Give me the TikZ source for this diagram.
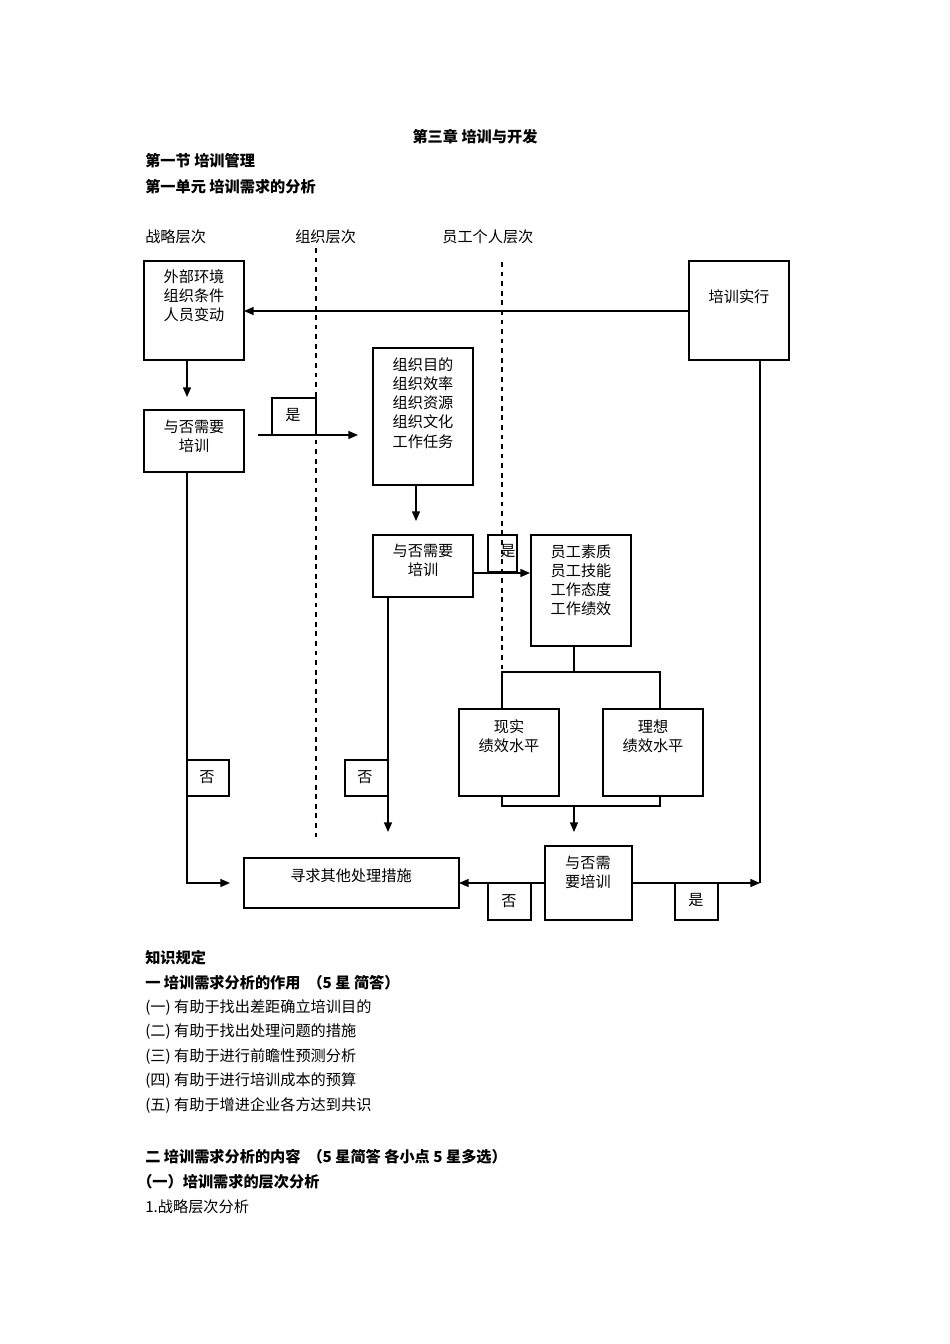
\documentclass[tikz,border=0pt]{standalone}
\usepackage{fontspec}
\setmainfont{Noto Sans CJK SC}
\usetikzlibrary{arrows.meta}
\begin{document}
\begin{tikzpicture}[x=0.626pt,y=-0.626pt,
  font=\fontsize{9.5}{12}\selectfont,
  bx/.style={draw,thick,minimum width=0pt,inner sep=0pt},
  lbl/.style={anchor=west,inner sep=0pt},
  bl/.style={anchor=west,inner sep=0pt,font=\fontsize{9.5}{12}\selectfont\bfseries},
  ar/.style={-{Triangle[length=6pt,width=5pt]},thick},
  ln/.style={thick}]
\useasboundingbox (0,0) rectangle (950,1344);
\fill[white] (0,0) rectangle (950,1344);
\node[inner sep=0pt,font=\fontsize{9.5}{12}\selectfont\bfseries] (t) at (475,137) {第三章 培训与开发};
\node[bl] (t1) at (145,161) {第一节 培训管理};
\node[bl] (t2) at (145,187) {第一单元 培训需求的分析};
\node[lbl] (h1) at (145,237) {战略层次};
\node[lbl] (h2) at (295,237) {组织层次};
\node[lbl] (h3) at (442,237) {员工个人层次};
\draw[dashed,thick] (316,248) -- (316,840);
\draw[dashed,thick] (502,262) -- (502,700);
% boxes
\draw[thick] (144,261) rectangle (244,360); \node[align=center] (A) at (194,296) {外部环境\\组织条件\\人员变动};
\draw[thick] (689,261) rectangle (789,360); \node (B) at (739,297) {培训实行};
\draw[thick] (144,410) rectangle (244,472); \node[align=center] (C) at (194,436) {与否需要\\培训};
\draw[thick] (373,348) rectangle (473,485); \node[align=center] (D) at (423,403) {组织目的\\组织效率\\组织资源\\组织文化\\工作任务};
\draw[thick] (373,535) rectangle (473,597); \node[align=center] (E) at (423,560) {与否需要\\培训};
\draw[thick] (531,535) rectangle (631,646); \node[align=center] (F) at (581,580) {员工素质\\员工技能\\工作态度\\工作绩效};
\draw[thick] (459,709) rectangle (559,796); \node[align=center] (G) at (509,736) {现实\\绩效水平};
\draw[thick] (603,709) rectangle (703,796); \node[align=center] (H) at (653,736) {理想\\绩效水平};
\draw[thick] (545,846) rectangle (632,920); \node[align=center] (I) at (588,872) {与否需\\要培训};
\draw[thick] (244,858) rectangle (459,908); \node (J) at (351,876) {寻求其他处理措施};
% small label boxes
\draw[thick] (272,398) rectangle (316,435); \node (y1) at (293,415) {是};
\draw[thick] (488,535) rectangle (517,572); \node (y2) at (508,551) {是};
\draw[thick] (187,760) rectangle (229,796); \node (n1) at (207,777) {否};
\draw[thick] (345,760) rectangle (388,796); \node (n2) at (365,777) {否};
\draw[thick] (488,883) rectangle (531,920); \node (n3) at (509,901) {否};
\draw[thick] (675,883) rectangle (718,920); \node (y3) at (696,900) {是};
% connectors
\coordinate (a1) at (689,311); \coordinate (a2) at (244,311);
\draw[ar] (a1) -- (a2);
\coordinate (b1) at (187,360); \coordinate (b2) at (187,397);
\draw[ar] (b1) -- (b2);
\coordinate (c1) at (258,435); \coordinate (c2) at (358,435);
\draw[ar] (c1) -- (c2);
\coordinate (d1) at (416,485); \coordinate (d2) at (416,521);
\draw[ar] (d1) -- (d2);
\coordinate (e1) at (473,573); \coordinate (e2) at (530,573);
\draw[ar] (e1) -- (e2);
\coordinate (f1) at (574,646); \coordinate (f2) at (574,672);
\coordinate (f3) at (502,672); \coordinate (f4) at (660,672);
\coordinate (f5) at (502,709); \coordinate (f6) at (660,709);
\draw[ln] (f1) -- (f2); \draw[ln] (f5) -- (f3) -- (f4) -- (f6);
\coordinate (g1) at (502,796); \coordinate (g2) at (502,806);
\coordinate (g3) at (660,806); \coordinate (g4) at (660,796);
\draw[ln] (g1) -- (g2) -- (g3) -- (g4);
\coordinate (g5) at (574,806); \coordinate (g6) at (574,832);
\draw[ar] (g5) -- (g6);
\coordinate (i1) at (545,883); \coordinate (i2) at (459,883);
\draw[ar] (i1) -- (i2);
\coordinate (i3) at (632,883); \coordinate (i4) at (760,883);
\coordinate (i5) at (760,360);
\draw[ar] (i3) -- (i4);
\draw[ln] (i5) -- (i4);
\coordinate (c3) at (187,472); \coordinate (c4) at (187,883); \coordinate (c5) at (230,883);
\draw[ar] (c3) -- (c4) -- (c5);
\coordinate (e3) at (388,597); \coordinate (e4) at (388,832);
\draw[ar] (e3) -- (e4);
% text below
\node[bl] (k0) at (145,958) {知识规定};
\node[bl] (k1) at (145,983) {一 培训需求分析的作用 \ （5 星 简答）};
\node[lbl] (k2) at (145,1008) {(一) 有助于找出差距确立培训目的};
\node[lbl] (k3) at (145,1032) {(二) 有助于找出处理问题的措施};
\node[lbl] (k4) at (145,1057) {(三) 有助于进行前瞻性预测分析};
\node[lbl] (k5) at (145,1081) {(四) 有助于进行培训成本的预算};
\node[lbl] (k6) at (145,1106) {(五) 有助于增进企业各方达到共识};
\node[bl] (k7) at (145,1157) {二 培训需求分析的内容 \ （5 星简答 各小点 5 星多选）};
\node[bl] (k8) at (137,1182) {（一）培训需求的层次分析};
\node[lbl] (k9) at (145,1207) {1.战略层次分析};
\end{tikzpicture}
\end{document}
